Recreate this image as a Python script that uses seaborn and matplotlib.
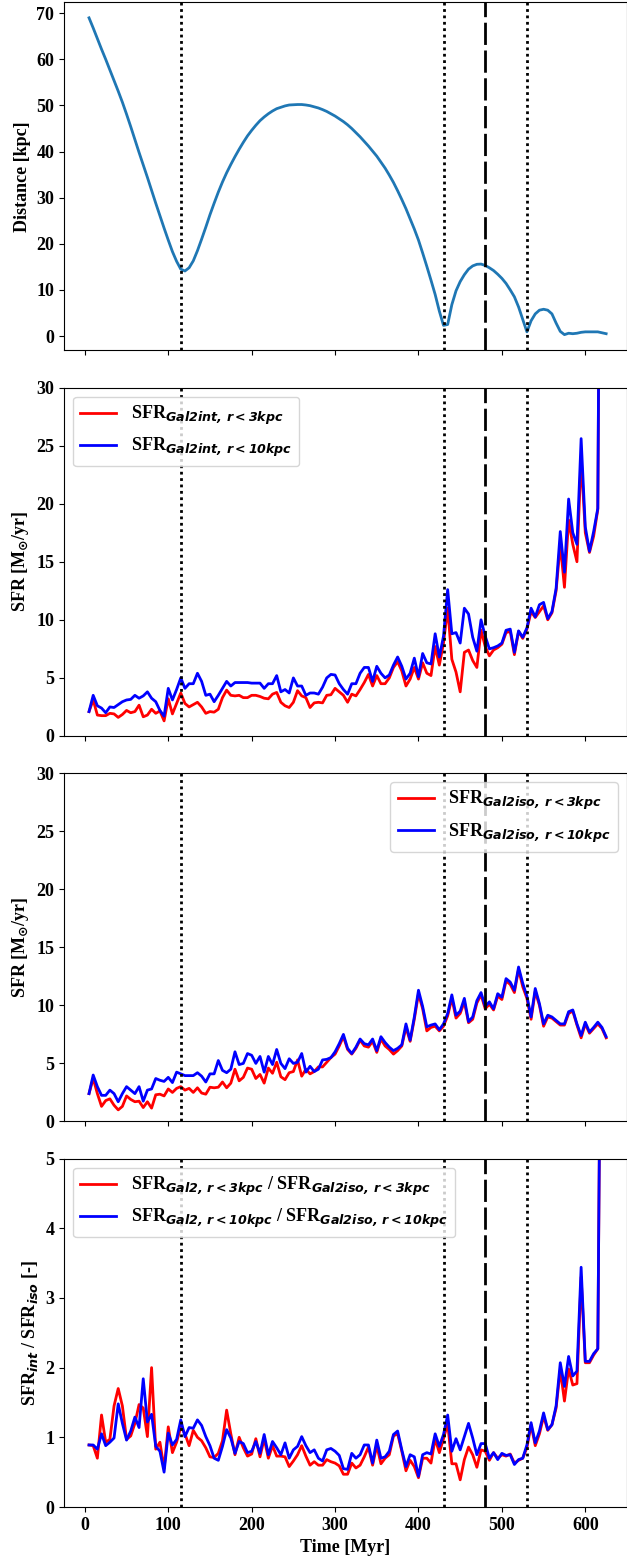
import numpy as np
import matplotlib
matplotlib.use("Agg")
import matplotlib.pyplot as plt
import seaborn as sns

# --- data (time in Myr, 5 Myr snapshots) ---
time_dist = np.arange(5, 630, 5)
time_int = np.arange(5, 625, 5)
time_iso = np.arange(5, 630, 5)

distance = [
    69.0, 66.8, 64.5, 62.2, 60.0, 57.7, 55.4, 53.1, 50.7, 48.1,
    45.4, 42.6, 39.8, 37.1, 34.4, 31.6, 28.8, 26.1, 23.4, 20.8,
    18.3, 16.2, 14.5, 14.1, 14.8, 16.3, 18.5, 21.0, 23.6, 26.3,
    28.8, 31.2, 33.4, 35.4, 37.2, 38.9, 40.5, 42.0, 43.4, 44.6,
    45.7, 46.7, 47.5, 48.2, 48.8, 49.3, 49.6, 49.9, 50.1, 50.15,
    50.2, 50.2, 50.1, 49.95, 49.7, 49.45, 49.1, 48.7, 48.2, 47.7,
    47.1, 46.5, 45.8, 45.0, 44.1, 43.2, 42.2, 41.2, 40.1, 39.0,
    37.7, 36.4, 34.9, 33.3, 31.5, 29.6, 27.6, 25.4, 23.2, 20.8,
    18.0, 15.1, 12.1, 9.0, 5.4, 2.3, 2.5, 6.8, 9.8, 11.8,
    13.3, 14.5, 15.2, 15.55, 15.6, 15.3, 14.8, 14.2, 13.4, 12.5,
    11.4, 10.0, 8.5, 6.3, 3.6, 0.9, 3.3, 4.8, 5.6, 5.8,
    5.6, 4.8, 2.8, 1.0, 0.3, 0.6, 0.5, 0.6, 0.8, 0.9,
    0.9, 0.9, 0.9, 0.7, 0.5,
]

sfr_int_3kpc = [
    2.1, 3.1, 1.8, 1.75, 1.75, 1.95, 1.9, 1.6, 1.85, 2.2,
    2.0, 2.1, 2.65, 1.65, 1.8, 2.3, 1.95, 2.15, 1.3, 3.2,
    1.9, 2.8, 3.7, 2.8, 2.5, 2.7, 2.9, 2.5, 1.95, 2.1,
    2.05, 2.3, 3.3, 3.95, 3.5, 3.45, 3.5, 3.3, 3.3, 3.5,
    3.5, 3.4, 3.25, 3.2, 3.6, 3.75, 2.9, 2.6, 2.45, 2.9,
    3.9, 3.45, 3.3, 2.45, 2.85, 2.9, 2.85, 3.5, 3.55, 4.1,
    3.8, 3.5, 2.9, 3.6, 3.45, 4.0, 4.6, 5.3, 4.3, 5.2,
    4.5, 4.5, 5.0, 5.9, 6.4, 5.6, 4.3, 4.9, 5.9, 4.9,
    6.3, 5.4, 5.2, 7.7, 6.1, 8.0, 11.0, 6.6, 5.5, 3.8,
    7.2, 7.4, 6.5, 5.9, 9.1, 7.7, 6.9, 7.4, 7.6, 7.9,
    8.9, 9.0, 7.0, 9.0, 8.4, 9.2, 10.7, 10.2, 10.7, 11.2,
    10.0, 10.6, 12.5, 16.5, 12.8, 18.6, 16.5, 15.0, 24.0, 17.5,
    15.8, 17.2, 19.5, 78.0,
]

sfr_int_10kpc = [
    2.1, 3.5, 2.6, 2.4, 2.0, 2.5, 2.45, 2.7, 2.95, 3.1,
    3.15, 3.5, 3.25, 3.45, 3.8, 3.25, 2.95, 2.2, 1.7, 4.1,
    3.1, 4.0, 5.0, 4.1, 4.5, 4.5, 5.4, 4.7, 3.5, 3.6,
    2.95, 3.5, 4.1, 4.7, 4.3, 4.6, 4.6, 4.6, 4.6, 4.55,
    4.55, 4.55, 4.1, 4.5, 4.5, 5.2, 3.8, 4.0, 3.7, 5.0,
    4.3, 4.3, 3.5, 3.7, 3.7, 3.6, 4.2, 5.0, 5.3, 5.25,
    4.5, 4.0, 3.6, 4.5, 4.5, 5.4, 5.9, 5.9, 4.7, 6.0,
    5.4, 5.0, 5.25, 6.1, 6.8, 6.0, 4.9, 5.4, 6.7, 5.1,
    7.1, 6.3, 6.2, 8.8, 6.8, 8.6, 12.6, 8.8, 8.9, 8.0,
    11.0, 10.5, 8.5, 7.3, 10.0, 8.6, 7.5, 7.6, 7.75, 8.0,
    9.1, 9.2, 7.2, 9.05, 8.5, 9.3, 11.0, 10.25, 11.3, 11.5,
    10.1, 10.7, 12.7, 17.6, 14.1, 20.4, 17.5, 16.5, 25.6, 18.0,
    15.9, 17.6, 19.6, 80.0,
]

sfr_iso_3kpc = [
    2.4, 3.7, 2.4, 1.3, 1.8, 1.95, 1.4, 1.0, 1.3, 2.2,
    1.9, 1.7, 1.75, 1.2, 1.7, 1.15, 2.3, 2.35, 2.2, 2.8,
    2.5, 2.85, 3.0, 2.7, 2.85, 2.5, 2.9, 2.45, 2.35, 2.95,
    2.9, 2.95, 3.4, 2.9, 3.3, 4.5, 3.5, 3.8, 4.6, 4.5,
    3.7, 4.05, 3.3, 4.6, 4.15, 5.1, 3.85, 3.6, 4.2, 4.3,
    5.3, 3.9, 4.5, 4.1, 4.3, 4.7, 4.7, 5.1, 5.5, 5.8,
    6.5, 7.3, 6.2, 5.8, 6.3, 7.0, 6.5, 6.4, 6.9, 5.95,
    7.1, 6.5, 6.2, 5.8, 6.1, 6.5, 8.1, 6.9, 8.8, 11.0,
    9.7, 7.8, 8.1, 8.2, 7.8, 8.2, 9.1, 10.6, 8.9, 9.3,
    10.3, 8.5, 8.8, 10.2, 10.9, 9.7, 10.1, 9.6, 10.8, 10.5,
    12.1, 11.8, 11.1, 13.1, 11.6, 10.6, 8.8, 11.2, 10.0, 8.2,
    9.0, 8.9, 8.6, 8.3, 8.3, 9.3, 9.5, 8.3, 7.2, 8.4,
    7.6, 8.0, 8.4, 8.0, 7.2,
]

sfr_iso_10kpc = [
    2.4, 4.0, 3.0, 2.25, 2.25, 2.7, 2.4, 1.7, 2.4, 3.0,
    2.7, 2.4, 3.0, 1.75, 2.7, 2.8, 3.7, 3.55, 3.45, 3.8,
    3.35, 4.25, 4.1, 3.95, 3.95, 3.95, 4.2, 3.9, 3.4, 4.1,
    4.1, 5.25, 4.4, 4.2, 4.5, 6.0, 4.9, 5.0, 5.85, 5.7,
    5.0, 5.6, 4.25, 5.6, 4.9, 6.2, 5.0, 4.55, 5.4, 5.0,
    5.1, 5.85, 4.25, 4.75, 4.3, 4.5, 5.3, 5.35, 5.5, 6.0,
    6.7, 7.5, 6.3, 5.85, 6.4, 7.1, 6.7, 6.6, 7.1, 6.1,
    7.3, 6.8, 6.4, 6.1, 6.3, 6.6, 8.4, 7.0, 9.0, 11.3,
    9.9, 8.15, 8.3, 8.4, 7.9, 8.4, 9.3, 10.9, 9.15, 9.5,
    10.6, 8.6, 9.0, 10.4, 11.1, 9.9, 10.3, 9.7, 11.0, 10.7,
    12.3, 12.0, 11.3, 13.3, 11.9, 10.8, 9.0, 11.45, 10.15, 8.4,
    9.15, 9.0, 8.7, 8.4, 8.4, 9.45, 9.6, 8.4, 7.4, 8.55,
    7.7, 8.1, 8.55, 8.1, 7.3,
]

ratio_3kpc = [
    0.89, 0.88, 0.7, 1.32, 0.93, 0.97, 1.45, 1.7, 1.45, 0.97,
    1.02, 1.2, 1.47, 1.42, 1.01, 2.0, 0.83, 0.93, 0.55, 1.15,
    0.78, 0.93, 1.15, 1.05, 0.88, 1.1, 1.0, 0.95, 0.85, 0.72,
    0.71, 0.77, 0.95, 1.39, 1.05, 0.75, 1.0, 0.85, 0.73, 0.76,
    0.98, 0.72, 0.98, 0.7, 0.88, 0.73, 0.73, 0.72, 0.58, 0.66,
    0.75, 0.88, 0.73, 0.6, 0.65, 0.6, 0.6, 0.68, 0.65, 0.63,
    0.59, 0.47, 0.47, 0.63, 0.56, 0.6, 0.72, 0.86, 0.6, 0.88,
    0.62, 0.7, 0.75, 1.02, 1.05, 0.8, 0.52, 0.67, 0.58, 0.42,
    0.7, 0.7, 0.63, 0.98, 0.78, 0.98, 1.2, 0.62, 0.62, 0.39,
    0.68, 0.86, 0.75, 0.57, 0.82, 0.8, 0.67, 0.78, 0.7, 0.75,
    0.73, 0.76, 0.63, 0.67, 0.7, 0.85, 1.18, 0.88, 1.05, 1.3,
    1.1, 1.18, 1.42, 1.97, 1.52, 1.98, 1.75, 1.77, 3.3, 2.07,
    2.07, 2.18, 2.27, 10.0,
]

ratio_10kpc = [
    0.89, 0.89, 0.83, 1.05, 0.88, 0.93, 0.99, 1.48, 1.2, 0.96,
    1.09, 1.29, 1.14, 1.84, 1.22, 1.33, 0.87, 0.8, 0.5, 1.06,
    0.89, 0.97, 1.25, 1.01, 1.14, 1.13, 1.25, 1.17, 1.01, 0.88,
    0.7, 0.67, 0.87, 1.11, 0.99, 0.77, 0.94, 0.91, 0.78, 0.8,
    0.94, 0.77, 1.04, 0.75, 0.94, 0.85, 0.75, 0.92, 0.7, 0.82,
    0.87, 1.01, 0.88, 0.78, 0.82, 0.7, 0.66, 0.82, 0.84, 0.8,
    0.74, 0.55, 0.54, 0.77, 0.7, 0.75, 0.89, 0.89, 0.63, 0.96,
    0.7, 0.72, 0.8, 1.04, 1.09, 0.82, 0.58, 0.75, 0.72, 0.44,
    0.75, 0.78, 0.76, 1.05, 0.87, 1.04, 1.32, 0.8, 0.98, 0.82,
    1.01, 1.2, 0.99, 0.75, 0.91, 0.91, 0.7, 0.78, 0.68, 0.77,
    0.74, 0.75, 0.61, 0.68, 0.7, 0.89, 1.21, 0.92, 1.09, 1.35,
    1.11, 1.18, 1.45, 2.07, 1.73, 2.16, 1.88, 1.95, 3.44, 2.09,
    2.09, 2.2, 2.27, 10.0,
]

# pericentre passages (dotted) and reference time (dashed)
pericentres = [115, 430, 530]
ref_time = 480

# --- style ---
plt.rcParams.update({
    'font.family': 'serif',
    'font.serif': ['Liberation Serif', 'DejaVu Serif'],
    'font.weight': 'bold',
    'axes.labelweight': 'bold',
    'font.size': 13,
    'axes.labelsize': 13,
    'xtick.labelsize': 13,
    'ytick.labelsize': 13,
    'mathtext.fontset': 'dejavusans',
})

fig, axes = plt.subplots(4, 1, figsize=(6.27, 15.64), dpi=100, sharex=True)
plt.subplots_adjust(left=64 / 627, right=1.0, top=1 - 2 / 1564,
                    bottom=1 - 1507 / 1564, hspace=37 / 348)

ax1, ax2, ax3, ax4 = axes

# panel 1: distance
sns.lineplot(x=time_dist, y=distance, ax=ax1, color='#1f77b4', lw=2)
ax1.set_ylabel('Distance [kpc]')
ax1.set_yticks(range(0, 80, 10))

# panel 2: interacting galaxy
lab = lambda s: r'SFR$_{\mathbfit{' + s + '}}$'
sns.lineplot(x=time_int, y=sfr_int_3kpc, ax=ax2, color='red', lw=2,
             label=lab(r'Gal2int,\,r<3kpc'))
sns.lineplot(x=time_int, y=sfr_int_10kpc, ax=ax2, color='blue', lw=2,
             label=lab(r'Gal2int,\,r<10kpc'))
ax2.set_ylim(0, 30)
ax2.set_ylabel(r'SFR [M$_{\odot}$/yr]')
ax2.legend(loc='upper left', fontsize=13)

# panel 3: isolated galaxy
sns.lineplot(x=time_iso, y=sfr_iso_3kpc, ax=ax3, color='red', lw=2,
             label=lab(r'Gal2iso,\,r<3kpc'))
sns.lineplot(x=time_iso, y=sfr_iso_10kpc, ax=ax3, color='blue', lw=2,
             label=lab(r'Gal2iso,\,r<10kpc'))
ax3.set_ylim(0, 30)
ax3.set_ylabel(r'SFR [M$_{\odot}$/yr]')
ax3.legend(loc='upper right', fontsize=13)

# panel 4: ratio
sns.lineplot(x=time_int, y=ratio_3kpc, ax=ax4, color='red', lw=2,
             label=lab(r'Gal2,\,r<3kpc') + ' / ' + lab(r'Gal2iso,\,r<3kpc'))
sns.lineplot(x=time_int, y=ratio_10kpc, ax=ax4, color='blue', lw=2,
             label=lab(r'Gal2,\,r<10kpc') + ' / ' + lab(r'Gal2iso,\,r<10kpc'))
ax4.set_ylim(0, 5)
ax4.set_ylabel(r'SFR$_{\mathbfit{int}}$ / SFR$_{\mathbfit{iso}}$ [-]')
ax4.legend(loc='upper left', fontsize=13)
ax4.set_xlabel('Time [Myr]')

for ax in axes:
    for t in pericentres:
        ax.axvline(t, color='k', lw=2, ls=(0, (1, 1.3)))
    ax.axvline(ref_time, color='k', lw=2, ls=(0, (8, 2)))
    ax.set_xlim(-25, 650)
    ax.set_xticks(range(0, 700, 100))

fig.savefig('out.png', dpi=100)
